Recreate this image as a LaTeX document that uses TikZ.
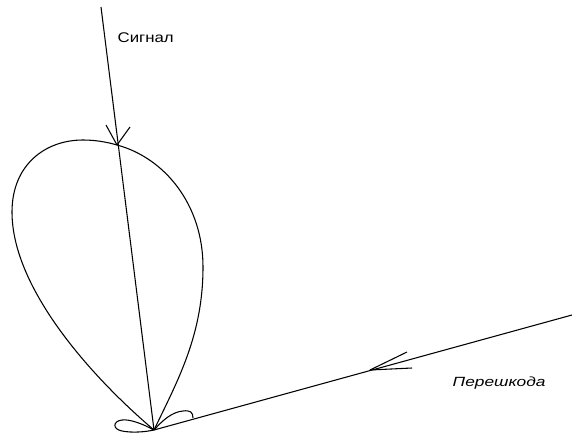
\documentclass[tikz,border=0pt]{standalone}
\usepackage{fontspec}
\setmainfont{Liberation Sans}
\usepackage{xcolor}
\usetikzlibrary{positioning, calc}

\begin{document}
\begin{tikzpicture}[x=0.75pt, y=-0.75pt, line width=0.8pt]
    \useasboundingbox (0,0) rectangle (572,439);

    \coordinate (base) at (154,430);
    \coordinate (signal) at (101,7);
    \coordinate (signaltip) at (117,145);
    \coordinate (signalbarbl) at (106,125);
    \coordinate (signalbarbr) at (130,127);
    \coordinate (noise) at (572,315);
    \coordinate (noisetip) at (370,370);
    \coordinate (noisebarbu) at (407,352);
    \coordinate (noisebarbd) at (412,368);

    \node (signallabel) [anchor=west, inner sep=0pt, xscale=1.2] at (117,38) {\fontsize{10.5pt}{12pt}\selectfont Сигнал};
    \node (noiselabel) [anchor=west, inner sep=0pt, xscale=1.3] at (452,383) {\fontsize{10pt}{12pt}\selectfont\itshape Перешкода};

    \draw (signal) -- (base);
    \draw (noise) -- (base);
    \draw (signaltip) -- (signalbarbl);
    \draw (signaltip) -- (signalbarbr);
    \draw (noisetip) -- (noisebarbu);
    \draw (noisetip) -- (noisebarbd);

    % main lobe
    \draw (base) .. controls (95,380) and (12,290) .. (12,212)
        .. controls (12,165) and (45,140) .. (83,140)
        .. controls (95,140) and (107,142) .. (signaltip)
        .. controls (165,158) and (203,205) .. (203,267)
        .. controls (203,335) and (178,380) .. (base);
    % side lobes
    \draw (base) .. controls (143,424) and (130,419) .. (122,420)
        .. controls (113,421) and (112,429) .. (122,431)
        .. controls (132,433) and (145,432) .. (base);
    \draw (base) .. controls (163,420) and (172,412) .. (183,411)
        .. controls (190,410) and (193,412) .. (193,418);
\end{tikzpicture}
\end{document}
